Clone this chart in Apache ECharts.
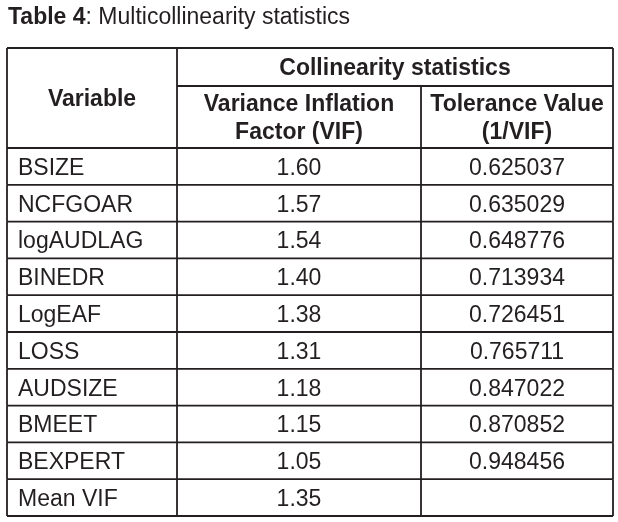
<!DOCTYPE html>
<html><head><meta charset="utf-8">
<script src="https://cdn.jsdelivr.net/npm/echarts@6/dist/echarts.min.js"></script>
<style>html,body{margin:0;padding:0;background:#fff}#c{width:618px;height:522px}</style>
</head><body><div id="c"></div>
<script>
const titleBold = 'Table 4';
const titleRest = ': Multicollinearity statistics';
const headerGroup = 'Collinearity statistics';
const headerVar = 'Variable';
const headerVif = 'Variance Inflation\nFactor (VIF)';
const headerTol = 'Tolerance Value\n(1/VIF)';
const variables = ['BSIZE','NCFGOAR','logAUDLAG','BINEDR','LogEAF','LOSS','AUDSIZE','BMEET','BEXPERT','Mean VIF'];
const vifValues = ['1.60','1.57','1.54','1.40','1.38','1.31','1.18','1.15','1.05','1.35'];
const toleranceValues = ['0.625037','0.635029','0.648776','0.713934','0.726451','0.765711','0.847022','0.870852','0.948456',''];

const INK = '#231f20';
const LW = 1.8;
const FONT = '"Liberation Sans", Arial, sans-serif';
const FS = 23;
// table layout (pixels)
const L = 7, R = 613, C1 = 177, C2 = 421, TOP = 48, SUB = 86, HB = 148, BOT = 516;
const colBounds = [0, C1 - L, C2 - L, R - L];

const chart = echarts.init(document.getElementById('c'), null, {renderer: 'canvas'});
function line(x1, y1, x2, y2) {
  return {type: 'line', shape: {x1, y1, x2, y2}, style: {stroke: INK, lineWidth: LW}, silent: true};
}
function txt(x, y, text, bold, align) {
  return {type: 'text', x, y, style: {text, fill: INK, font: (bold ? 'bold ' : '') + FS + 'px ' + FONT,
    align: align || 'center', verticalAlign: 'middle', lineHeight: 28}, silent: true};
}
chart.setOption({
  backgroundColor: '#fff',
  animation: false,
  grid: {left: L, right: 618 - R, top: HB, bottom: 522 - BOT},
  xAxis: {type: 'value', min: 0, max: R - L, show: false},
  yAxis: {type: 'category', data: variables, inverse: true, show: false},
  graphic: [
    {type: 'text', x: 8, y: 18, style: {rich: {b: {font: 'bold ' + FS + 'px ' + FONT, fill: INK}, r: {font: FS + 'px ' + FONT, fill: INK}},
      text: '{b|' + titleBold + '}{r|' + titleRest + '}', verticalAlign: 'middle'}, silent: true},
    line(L, TOP, R, TOP),
    line(L, TOP, L, HB),
    line(R, TOP, R, HB),
    line(C1, TOP, C1, HB),
    line(C1, SUB, R, SUB),
    line(C2, SUB, C2, HB),
    line(L, HB, R, HB),
    txt((L + C1) / 2, (TOP + HB) / 2 + 2, headerVar, true),
    txt((C1 + R) / 2, (TOP + SUB) / 2 + 2, headerGroup, true),
    txt((C1 + C2) / 2, (SUB + HB) / 2 + 2, headerVif, true),
    txt((C2 + R) / 2, (SUB + HB) / 2 + 2, headerTol, true)
  ],
  series: [{
    type: 'custom',
    coordinateSystem: 'cartesian2d',
    data: variables.map((v, i) => [0, i]),
    renderItem: function (params, api) {
      const i = api.value(1);
      const c = api.coord([0, i]);
      const h = api.size([0, 1])[1];
      const y0 = c[1] - h / 2, y1 = c[1] + h / 2;
      const xs = colBounds.map(b => api.coord([b, i])[0]);
      const cy = c[1] + 2;
      return {type: 'group', children: [
        line(xs[0], y0, xs[0], y1), line(xs[1], y0, xs[1], y1),
        line(xs[2], y0, xs[2], y1), line(xs[3], y0, xs[3], y1),
        line(xs[0], y1, xs[3], y1),
        txt(xs[0] + 11, cy, variables[i], false, 'left'),
        txt((xs[1] + xs[2]) / 2, cy, vifValues[i], false),
        txt((xs[2] + xs[3]) / 2, cy, toleranceValues[i], false)
      ]};
    }
  }]
});
</script></body></html>
